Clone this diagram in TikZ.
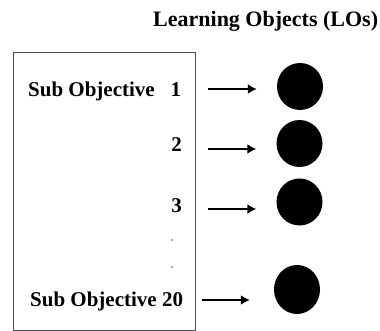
\documentclass[tikz,border=0pt]{standalone}
\usepackage{fontspec}
\setmainfont{Liberation Serif}
\usetikzlibrary{arrows.meta,shapes.geometric}
\begin{document}
\begin{tikzpicture}[x=1pt,y=-1pt,
  lbl/.style={inner sep=0pt,font=\fontsize{21}{25}\selectfont\bfseries},
  lo/.style={ellipse,fill=black,inner sep=0pt,minimum width=46pt,minimum height=47pt},
  arr/.style={line width=2pt,-{Latex[length=9pt,width=10pt]},shorten >=20pt},
  frame/.style={draw=black!70,line width=1.4pt,inner sep=0pt,anchor=north west,minimum width=182pt,minimum height=278pt},
  dotmark/.style={circle,fill=black!45,inner sep=0pt,minimum size=2.4pt}]
\useasboundingbox (0,0) rectangle (380,331);
\node[lbl,font=\fontsize{22}{26}\selectfont\bfseries,anchor=base west] (title) at (153,27) {Learning Objects (LOs)};
\node[frame] (box) at (13,52) {};
\node[lbl,anchor=base west] (l1) at (28,97) {\makebox[153pt]{Sub Objective\hfill1}};
\node[lbl,anchor=base east] (l2) at (182,152) {2};
\node[lbl,anchor=base east] (l3) at (182,212) {3};
\node[lbl,anchor=base west] (l20) at (30,306) {\makebox[153pt]{Sub Objective\hfill20}};
\node[dotmark] (d1) at (172,240) {};
\node[dotmark] (d2) at (172,267) {};
\node[lo] (c1) at (300,86.5) {};
\node[lo] (c2) at (299.5,143.5) {};
\node[lo] (c3) at (299.5,202) {};
\node[lo,minimum height=49pt] (c20) at (297,289.5) {};
\coordinate (s1) at (208,89);
\coordinate (s2) at (208,149);
\coordinate (s3) at (208,209);
\coordinate (s20) at (202,300);
\draw[arr] (s1) -- (c1.west |- s1);
\draw[arr] (s2) -- (c2.west |- s2);
\draw[arr] (s3) -- (c3.west |- s3);
\draw[arr,shorten >=24pt] (s20) -- (c20.west |- s20);
\end{tikzpicture}
\end{document}
